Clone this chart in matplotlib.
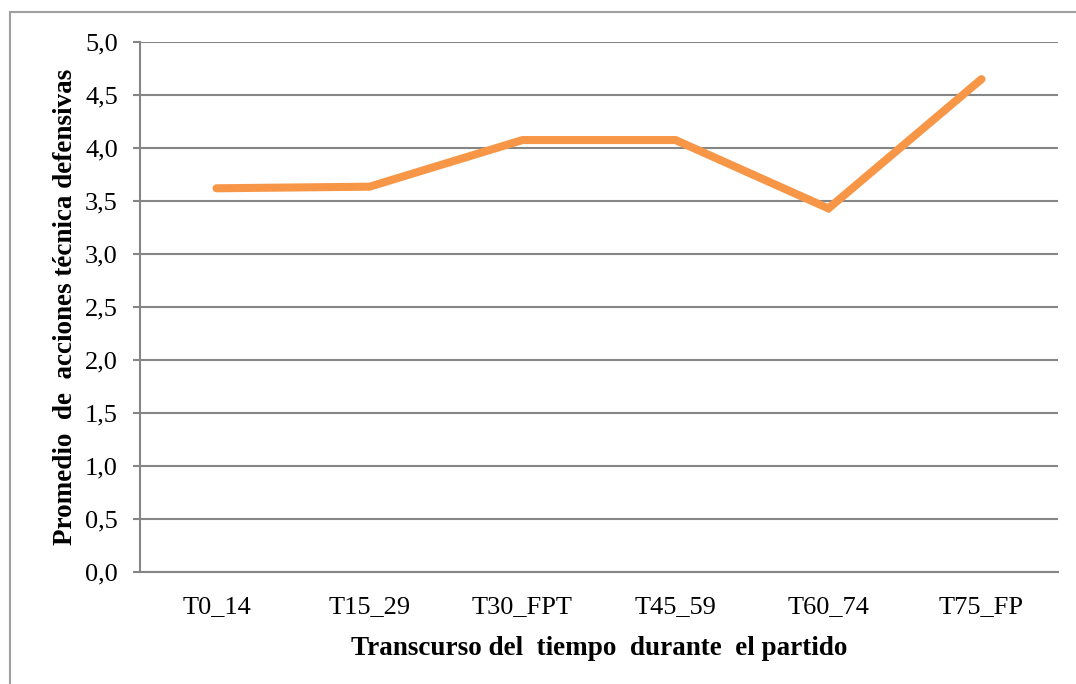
import numpy as np
import matplotlib
matplotlib.use('Agg')
import matplotlib.pyplot as plt
from matplotlib.patches import Rectangle

plt.rcParams['font.family'] = ['Liberation Serif', 'DejaVu Serif']

# datos
periodos = ['T0_14', 'T15_29', 'T30_FPT', 'T45_59', 'T60_74', 'T75_FP']
promedio = [3.62, 3.635, 4.075, 4.075, 3.43, 4.65]
y_ticks = [0.0, 0.5, 1.0, 1.5, 2.0, 2.5, 3.0, 3.5, 4.0, 4.5, 5.0]

fig = plt.figure(figsize=(10.76, 6.84), dpi=100)
ax = fig.add_axes([140/1076, 112/684, 918/1076, 530/684])

# marco exterior del grafico
fig.patches.append(Rectangle((10/1076, -0.05), 1.1, 1 - 12/684 + 0.05,
                             transform=fig.transFigure, fill=False,
                             edgecolor='#a0a0a0', linewidth=1.5))

x = np.arange(len(periodos))
ax.plot(x, promedio, color='#F79646', linewidth=5.8, solid_capstyle='round',
        solid_joinstyle='miter', zorder=3)

ax.set_xlim(-0.5, len(periodos) - 0.5)
ax.set_ylim(0, 5)
ax.set_yticks(y_ticks)
ax.set_yticklabels([f'{v:.1f}'.replace('.', ',') for v in y_ticks])
ax.set_xticks(x)
ax.set_xticklabels(periodos)

ax.yaxis.grid(True, color='#868686', linewidth=1.5)
ax.set_axisbelow(True)
for s in ['top', 'right']:
    ax.spines[s].set_visible(False)
ax.spines['left'].set_color('#868686')
ax.spines['bottom'].set_color('#868686')
ax.spines['left'].set_linewidth(1.5)
ax.spines['bottom'].set_linewidth(1.5)

ax.tick_params(axis='y', length=5, width=1.5, color='#868686', labelsize=19, pad=11)
ax.tick_params(axis='x', length=0, labelsize=19, pad=17)

ax.set_xlabel('Transcurso del  tiempo  durante  el partido', fontsize=19.5,
              fontweight='bold', labelpad=13)
ax.set_ylabel('Promedio  de  acciones técnica defensivas', fontsize=19.5,
              fontweight='bold', labelpad=5)

fig.savefig('out.png', dpi=100)
